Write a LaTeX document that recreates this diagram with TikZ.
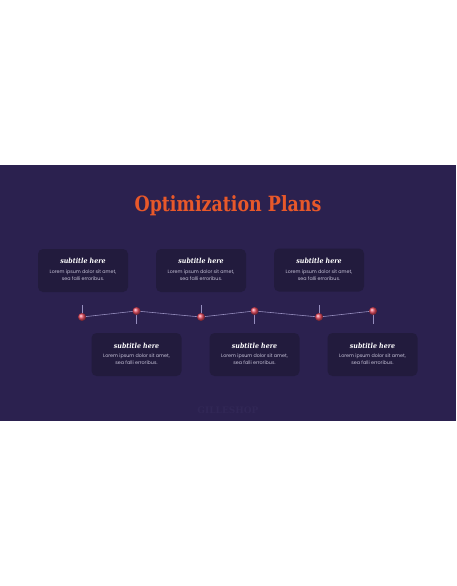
\documentclass[tikz,border=0pt]{standalone}
\usepackage{fontspec}
\setsansfont{Poppins}
\newfontfamily\heavyserif{DejaVu Serif}
\definecolor{slidebg}{RGB}{43,33,79}
\definecolor{boxbg}{RGB}{34,27,61}
\definecolor{titleorange}{RGB}{232,88,42}
\definecolor{bodygrey}{RGB}{200,196,218}
\definecolor{linelav}{RGB}{150,142,190}
\definecolor{ballred}{RGB}{234,74,96}
\definecolor{markgrey}{RGB}{49,39,86}

\begin{document}
\begin{tikzpicture}[x=1pt,y=-1pt,thick,
  plan box/.style={rounded corners=5pt,fill=boxbg,minimum width=90pt,minimum height=43pt,inner sep=0pt},
  sub node/.style={text=white,font=\heavyserif\bfseries\itshape\fontsize{7}{9}\selectfont},
  body node/.style={text=bodygrey,font=\sffamily\fontsize{4.8}{6.8}\selectfont,align=center},
  ball node/.style={circle,inner sep=0pt,minimum size=8pt,shading=ball,ball color=ballred}]
  \useasboundingbox[fill=white] (0,0) rectangle (456,586);
  \fill[slidebg] (0,164.5) rectangle (456,421);

  \node[text=titleorange,font=\heavyserif\bfseries\fontsize{21}{24}\selectfont] (title) at (228,205.5) {\scalebox{0.83}[1]{Optimization Plans}};

  % top row
  \node[plan box] (box1) at (83,270.5) {};
  \node[plan box] (box3) at (201,270.5) {};
  \node[plan box] (box5) at (319,270) {};
  % bottom row
  \node[plan box] (box2) at (136.5,354.5) {};
  \node[plan box] (box4) at (254.5,354.5) {};
  \node[plan box] (box6) at (372.5,354.5) {};

  \node[sub node] (sub1) at (83,260.5) {\scalebox{0.9}[1]{subtitle here}};
  \node[body node] (txt1) at (83,275.5) {Lorem ipsum dolor sit amet,\\sea falli erroribus.};
  \node[sub node] (sub3) at (201,260.5) {\scalebox{0.9}[1]{subtitle here}};
  \node[body node] (txt3) at (201,275.5) {Lorem ipsum dolor sit amet,\\sea falli erroribus.};
  \node[sub node] (sub5) at (319,260.5) {\scalebox{0.9}[1]{subtitle here}};
  \node[body node] (txt5) at (319,275.5) {Lorem ipsum dolor sit amet,\\sea falli erroribus.};
  \node[sub node] (sub2) at (136.5,345.5) {\scalebox{0.9}[1]{subtitle here}};
  \node[body node] (txt2) at (136.5,359.5) {Lorem ipsum dolor sit amet,\\sea falli erroribus.};
  \node[sub node] (sub4) at (254.5,345.5) {\scalebox{0.9}[1]{subtitle here}};
  \node[body node] (txt4) at (254.5,359.5) {Lorem ipsum dolor sit amet,\\sea falli erroribus.};
  \node[sub node] (sub6) at (372.5,345.5) {\scalebox{0.9}[1]{subtitle here}};
  \node[body node] (txt6) at (372.5,359.5) {Lorem ipsum dolor sit amet,\\sea falli erroribus.};

  % tick ends
  \coordinate (t1) at (82,305);
  \coordinate (t2) at (136.5,323.5);
  \coordinate (t3) at (201,305);
  \coordinate (t4) at (254.5,323.5);
  \coordinate (t5) at (319,305);
  \coordinate (t6) at (373,323.5);

  \coordinate (p1) at (82,317);
  \coordinate (p2) at (136.5,311);
  \coordinate (p3) at (201,317);
  \coordinate (p4) at (254.5,311);
  \coordinate (p5) at (319,317);
  \coordinate (p6) at (373,311);

\path[draw=linelav,line width=0.6pt]
  (p1) edge (p2)
  (p2) edge (p3)
  (p3) edge (p4)
  (p4) edge (p5)
  (p5) edge (p6)
  (p1) edge (t1)
  (p2) edge (t2)
  (p3) edge (t3)
  (p4) edge (t4)
  (p5) edge (t5)
  (p6) edge (t6)
;

  \node[ball node] (d1) at (p1) {};
  \node[ball node] (d2) at (p2) {};
  \node[ball node] (d3) at (p3) {};
  \node[ball node] (d4) at (p4) {};
  \node[ball node] (d5) at (p5) {};
  \node[ball node] (d6) at (p6) {};

  \node[text=markgrey,font=\heavyserif\bfseries\fontsize{9}{11}\selectfont] (mark) at (228,410) {GILLESHOP};
\end{tikzpicture}
\end{document}
